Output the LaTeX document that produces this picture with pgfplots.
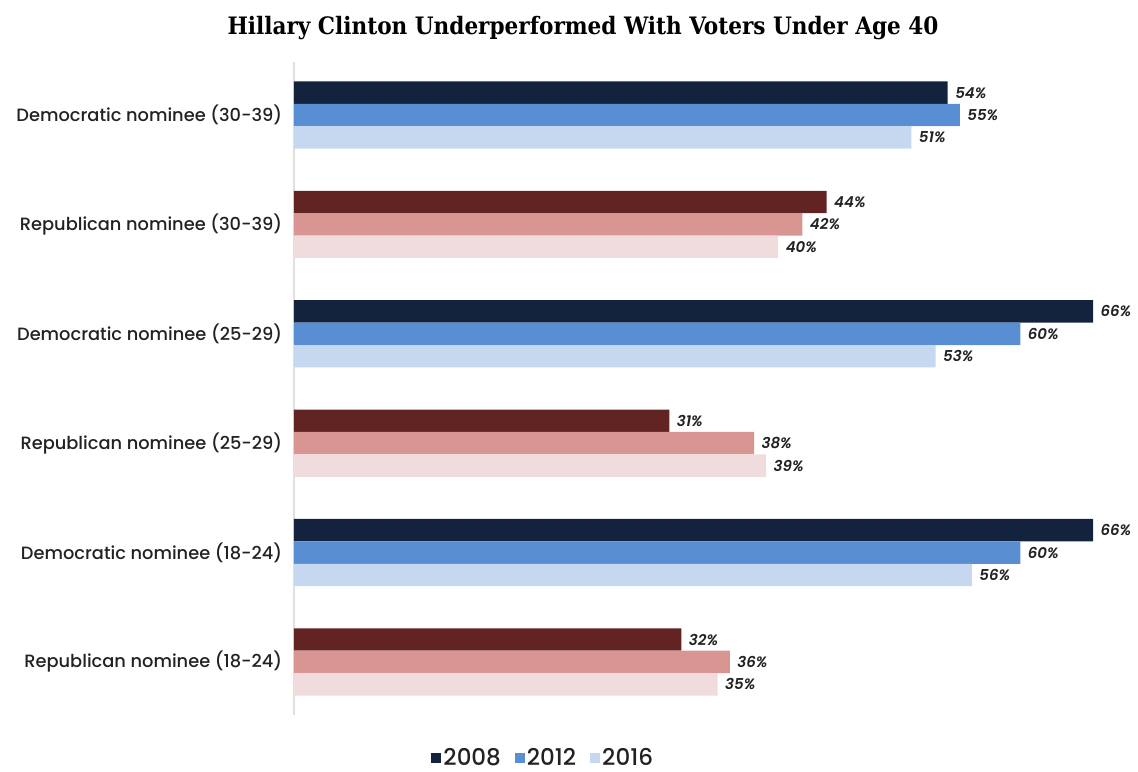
\documentclass[border=0pt]{standalone}
\usepackage{fontspec}
\setmainfont{Poppins}[UprightFont=* Medium, BoldFont=* SemiBold, ItalicFont=* Medium Italic, BoldItalicFont=* SemiBold Italic]
\newfontfamily\titlefont{DejaVu Serif Condensed}
\usepackage{pgfplots}
\pgfplotsset{compat=1.18}
\definecolor{dA}{HTML}{14233D}
\definecolor{dB}{HTML}{5A8ED2}
\definecolor{dC}{HTML}{C6D8EF}
\definecolor{rA}{HTML}{622323}
\definecolor{rB}{HTML}{D99592}
\definecolor{rC}{HTML}{F1DCDD}
\definecolor{txt}{HTML}{222222}
\begin{document}
\begin{tikzpicture}
\begin{axis}[name=ax,
  scale only axis, width=799pt, height=653pt,
  xmin=0, xmax=66, ymin=-0.485, ymax=5.485,
  xbar, bar width=22.4pt,
  axis x line=none, axis y line*=left,
  y axis line style={draw=black!12, line width=1.2pt, -},
  ytick={0,1,2,3,4,5},
  yticklabels={Republican nominee (18-24), Democratic nominee (18-24), Republican nominee (25-29), Democratic nominee (25-29), Republican nominee (30-39), Democratic nominee (30-39)},
  ytick style={draw=none},
  yticklabel style={font=\fontsize{17.8}{20}\selectfont, text=txt, xshift=-4pt},
  point meta=x,
  nodes near coords={\pgfmathprintnumber[assume math mode=true]{\pgfplotspointmeta}\%},
  nodes near coords style={font=\fontsize{15}{16}\selectfont\bfseries\itshape, text=txt, anchor=west, xshift=4pt},
  clip=false,
  legend columns=3,
  legend style={at={(0.312,-0.066)}, anchor=center, draw=none, fill=none,
    font=\fontsize{23}{24}\selectfont, text=txt, inner sep=0pt,
    /tikz/every even column/.append style={column sep=12pt}},
  legend image code/.code={\fill[#1,draw=none] (0pt,-5pt) rectangle (10pt,5pt);},
]
\addplot[fill=dA, draw=none, bar shift=22.4pt] coordinates {(54,5) (66,3) (66,1)};
\addlegendentry{2008}
\addplot[fill=dB, draw=none, bar shift=0pt] coordinates {(55,5) (60,3) (60,1)};
\addlegendentry{2012}
\addplot[fill=dC, draw=none, bar shift=-22.4pt] coordinates {(51,5) (53,3) (56,1)};
\addlegendentry{2016}
\addplot[fill=rA, draw=none, bar shift=22.4pt, forget plot] coordinates {(44,4) (31,2) (32,0)};
\addplot[fill=rB, draw=none, bar shift=0pt, forget plot] coordinates {(42,4) (38,2) (36,0)};
\addplot[fill=rC, draw=none, bar shift=-22.4pt, forget plot] coordinates {(40,4) (39,2) (35,0)};
\end{axis}
\node[font=\titlefont\bfseries\fontsize{24}{28}\selectfont, text=black] at ([xshift=289pt,yshift=34pt]ax.north west) {Hillary Clinton Underperformed With Voters Under Age 40};
\pgfresetboundingbox
\useasboundingbox ([xshift=-294pt,yshift=62pt]ax.north west) rectangle ([xshift=45pt,yshift=-57pt]ax.south east);
\end{tikzpicture}
\end{document}
